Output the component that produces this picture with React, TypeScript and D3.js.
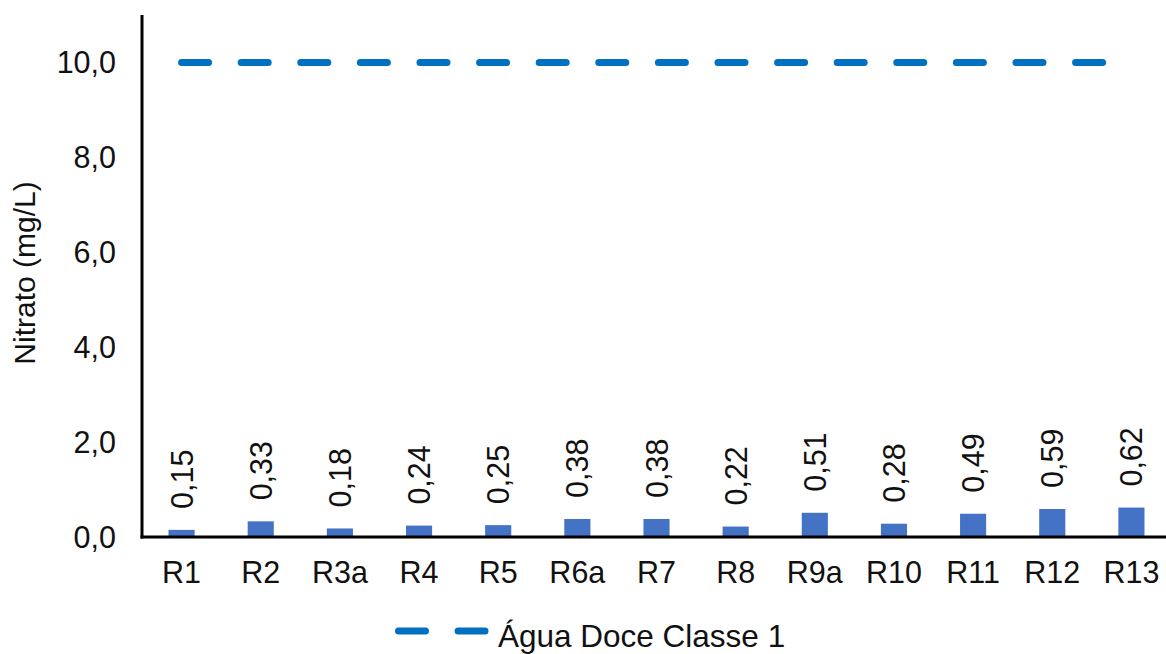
import { useEffect, useRef } from 'react';
import * as d3 from 'd3';

const categories = ['R1', 'R2', 'R3a', 'R4', 'R5', 'R6a', 'R7', 'R8', 'R9a', 'R10', 'R11', 'R12', 'R13'];
const nitrato = [0.15, 0.33, 0.18, 0.24, 0.25, 0.38, 0.38, 0.22, 0.51, 0.28, 0.49, 0.59, 0.62];
const limiteClasse1 = [10, 10, 10, 10, 10, 10, 10, 10, 10, 10, 10, 10, 10];
const yTicks = [0, 2, 4, 6, 8, 10];
const yTitle = 'Nitrato (mg/L)';
const legendLabel = 'Água Doce Classe 1';

const FONT = '"Liberation Sans", Arial, sans-serif';

export default function App() {
  const svgRef = useRef<SVGSVGElement>(null);

  useEffect(() => {
    if (!svgRef.current) return;
    d3.select(svgRef.current).selectAll('*').remove();

    const width = 1166;
    const height = 654;
    const margin = { left: 142, top: 15, bottom: 117 };
    const plotRight = 1171;

    const svg = d3.select(svgRef.current)
      .attr('width', width)
      .attr('height', height)
      .style('font-family', FONT);

    const locale = d3.formatLocale({ decimal: ',', thousands: '.', grouping: [3], currency: ['', ''] });
    const fmtTick = locale.format('.1f');
    const fmtLabel = locale.format('.2f');

    const x = d3.scaleBand<string>()
      .domain(categories)
      .range([margin.left, plotRight])
      .paddingInner(0.67)
      .paddingOuter(0.335);

    const y = d3.scaleLinear()
      .domain([0, 11])
      .range([height - margin.bottom, margin.top]);

    const cx = (c: string) => (x(c) ?? 0) + x.bandwidth() / 2;

    // bars
    svg.append('g')
      .selectAll('rect')
      .data(nitrato)
      .join('rect')
      .attr('x', (_, i) => x(categories[i]) ?? 0)
      .attr('y', d => y(d))
      .attr('width', x.bandwidth())
      .attr('height', d => y(0) - y(d))
      .attr('fill', '#4472C4');

    // data labels, rotated
    svg.append('g')
      .selectAll('text')
      .data(nitrato)
      .join('text')
      .attr('transform', (d, i) => `translate(${cx(categories[i]) + 11},${y(d) - 21}) rotate(-90)`)
      .attr('font-size', 30.5)
      .attr('fill', '#111')
      .text(d => fmtLabel(d));

    // reference line
    const line = d3.line<number>()
      .x((_, i) => cx(categories[i]))
      .y(d => y(d));

    svg.append('path')
      .datum(limiteClasse1)
      .attr('d', line)
      .attr('fill', 'none')
      .attr('stroke', '#0070C0')
      .attr('stroke-width', 7)
      .attr('stroke-linecap', 'round')
      .attr('stroke-dasharray', '27 32.6');

    // axes
    svg.append('line')
      .attr('x1', margin.left).attr('x2', margin.left)
      .attr('y1', y(11)).attr('y2', y(0) + 1.5)
      .attr('stroke', '#000').attr('stroke-width', 3);

    svg.append('line')
      .attr('x1', margin.left - 1.5).attr('x2', width)
      .attr('y1', y(0)).attr('y2', y(0))
      .attr('stroke', '#000').attr('stroke-width', 3);

    // y tick labels
    svg.append('g')
      .selectAll('text')
      .data(yTicks)
      .join('text')
      .attr('x', margin.left - 26)
      .attr('y', d => y(d))
      .attr('dy', '0.36em')
      .attr('text-anchor', 'end')
      .attr('font-size', 30.5)
      .attr('fill', '#111')
      .text(d => fmtTick(d));

    // x tick labels
    svg.append('g')
      .selectAll('text')
      .data(categories)
      .join('text')
      .attr('x', d => cx(d))
      .attr('y', y(0) + 46)
      .attr('text-anchor', 'middle')
      .attr('font-size', 30.5)
      .attr('fill', '#111')
      .text(d => d);

    // y title
    svg.append('text')
      .attr('transform', `translate(35,${(y(11) + y(0)) / 2 - 3}) rotate(-90)`)
      .attr('text-anchor', 'middle')
      .attr('font-size', 30)
      .attr('fill', '#111')
      .text(yTitle);

    // legend
    const lg = svg.append('g').attr('transform', 'translate(0,631)');
    lg.append('line')
      .attr('x1', 398.5).attr('x2', 485)
      .attr('y1', 0).attr('y2', 0)
      .attr('stroke', '#0070C0')
      .attr('stroke-width', 7)
      .attr('stroke-linecap', 'round')
      .attr('stroke-dasharray', '27 32.6');
    lg.append('text')
      .attr('x', 498)
      .attr('y', 16)
      .attr('font-size', 31.5)
      .attr('fill', '#111')
      .text(legendLabel);
  }, []);

  return (
    <svg
      ref={svgRef}
      style={{ position: 'absolute', left: 0, top: 0, display: 'block', background: '#fff' }}
    />
  );
}
